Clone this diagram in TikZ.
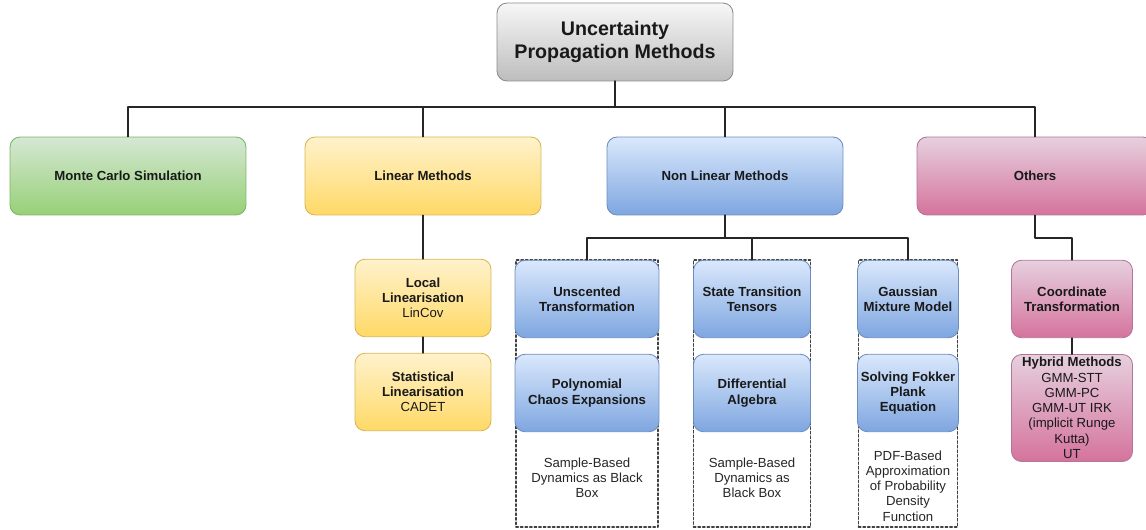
\documentclass[tikz,border=0pt]{standalone}
\usepackage{fontspec}
\setmainfont{Liberation Sans}
\definecolor{greyTop}{HTML}{F7F7F7}
\definecolor{greyBot}{HTML}{BDBDBD}
\definecolor{greyLine}{HTML}{8C8C8C}
\definecolor{greenTop}{HTML}{D5E8D4}
\definecolor{greenBot}{HTML}{97D077}
\definecolor{greenLine}{HTML}{82B366}
\definecolor{yellowTop}{HTML}{FFF2CC}
\definecolor{yellowBot}{HTML}{FFD966}
\definecolor{yellowLine}{HTML}{D6B656}
\definecolor{blueTop}{HTML}{DAE8FC}
\definecolor{blueBot}{HTML}{7EA6E0}
\definecolor{blueLine}{HTML}{6C8EBF}
\definecolor{pinkTop}{HTML}{E6D0DE}
\definecolor{pinkBot}{HTML}{D5739D}
\definecolor{pinkLine}{HTML}{B5739D}
\tikzset{
  box/.style={draw, line width=0.5pt, rounded corners=0.2cm, align=center, inner sep=1pt,
    text=black!90, font=\fontsize{7.5}{8.7}\selectfont\bfseries},
  greybox/.style={box, top color=greyTop, bottom color=greyBot, draw=greyLine},
  greenbox/.style={box, top color=greenTop, bottom color=greenBot, draw=greenLine},
  yellowbox/.style={box, top color=yellowTop, bottom color=yellowBot, draw=yellowLine},
  bluebox/.style={box, top color=blueTop, bottom color=blueBot, draw=blueLine},
  pinkbox/.style={box, top color=pinkTop, bottom color=pinkBot, draw=pinkLine},
  topbox/.style={minimum width=4.72cm, minimum height=1.56cm},
  subbox/.style={minimum height=1.55cm},
  groupbox/.style={draw=black!75, line width=0.9pt, dash pattern=on 1.3pt off 1.3pt,
    minimum height=5.34cm, inner sep=0pt},
  note/.style={align=center, inner sep=0pt, text=black!85, font=\fontsize{7.5}{8.7}\selectfont},
  link/.style={line width=1pt, black!85}
}
\begin{document}
\begin{tikzpicture}[x=0.02cm, y=-0.02cm, line cap=round, line join=round]
  \useasboundingbox (0,0) rectangle (1146,530);
  \coordinate (bus) at (0,107);
  \coordinate (subbus) at (0,238);

  \node[greybox, topbox, font=\fontsize{11.2}{13.5}\selectfont\bfseries] (root) at (615,42) {Uncertainty\\Propagation Methods};

  \node[greenbox, topbox] (mc) at (128,176) {Monte Carlo Simulation};
  \node[yellowbox, topbox] (lin) at (423,176) {Linear Methods};
  \node[bluebox, topbox] (nlin) at (725,176) {Non Linear Methods};
  \node[pinkbox, topbox] (oth) at (1035,176) {Others};
  \foreach \n in {mc,lin,nlin,oth}
    \draw[link] (root.south) -- (root.south |- bus) -| (\n.north);

  % linear branch
  \node[yellowbox, subbox, minimum width=2.72cm] (ll) at (423,298) {Local\\Linearisation\\\mdseries LinCov};
  \node[yellowbox, subbox, minimum width=2.72cm] (sl) at (423,392) {Statistical\\Linearisation\\\mdseries CADET};
  \draw[link] (lin) -- (ll);
  \draw[link] (ll) -- (sl);

  % non linear branch
  \node[groupbox, minimum width=2.84cm] (grpa) at (587,393.5) {};
  \node[groupbox, minimum width=2.34cm] (grpb) at (752,393.5) {};
  \node[groupbox, minimum width=1.98cm] (grpc) at (908,393.5) {};
  \node[bluebox, subbox, minimum width=2.88cm] (ut) at (587,299) {Unscented\\Transformation};
  \node[bluebox, subbox, minimum width=2.88cm] (pce) at (587,393) {Polynomial\\Chaos Expansions};
  \node[bluebox, subbox, minimum width=2.34cm] (stt) at (752,299) {State Transition\\Tensors};
  \node[bluebox, subbox, minimum width=2.34cm] (da) at (752,393) {Differential\\Algebra};
  \node[bluebox, subbox, minimum width=2.02cm] (gmm) at (908,299) {Gaussian\\Mixture Model};
  \node[bluebox, subbox, minimum width=2.02cm] (fpe) at (908,393) {Solving Fokker\\Plank\\Equation};
  \node[note] (sba) at (587,478) {Sample-Based\\Dynamics as Black\\Box};
  \node[note] (sbb) at (752,478) {Sample-Based\\Dynamics as\\Black Box};
  \node[note] (pdf) at (908,486) {PDF-Based\\Approximation\\of Probability\\Density\\Function};
  \foreach \n in {ut,stt,gmm}
    \draw[link] (nlin.south) -- (nlin.south |- subbus) -| (\n.north);

  % others branch
  \node[pinkbox, subbox, minimum width=2.42cm] (ct) at (1072,299) {Coordinate\\Transformation};
  \node[pinkbox, minimum width=2.42cm, minimum height=2.14cm, inner ysep=0pt, font=\fontsize{7.5}{8.7}\selectfont] (hyb) at (1072,408)
    {\textbf{Hybrid Methods}\\GMM-STT\\GMM-PC\\GMM-UT IRK\\(implicit Runge\\Kutta)\\UT};
  \draw[link] (oth.south) -- (oth.south |- subbus) -| (ct.north);
  \draw[link] (ct) -- (hyb);
\end{tikzpicture}
\end{document}
